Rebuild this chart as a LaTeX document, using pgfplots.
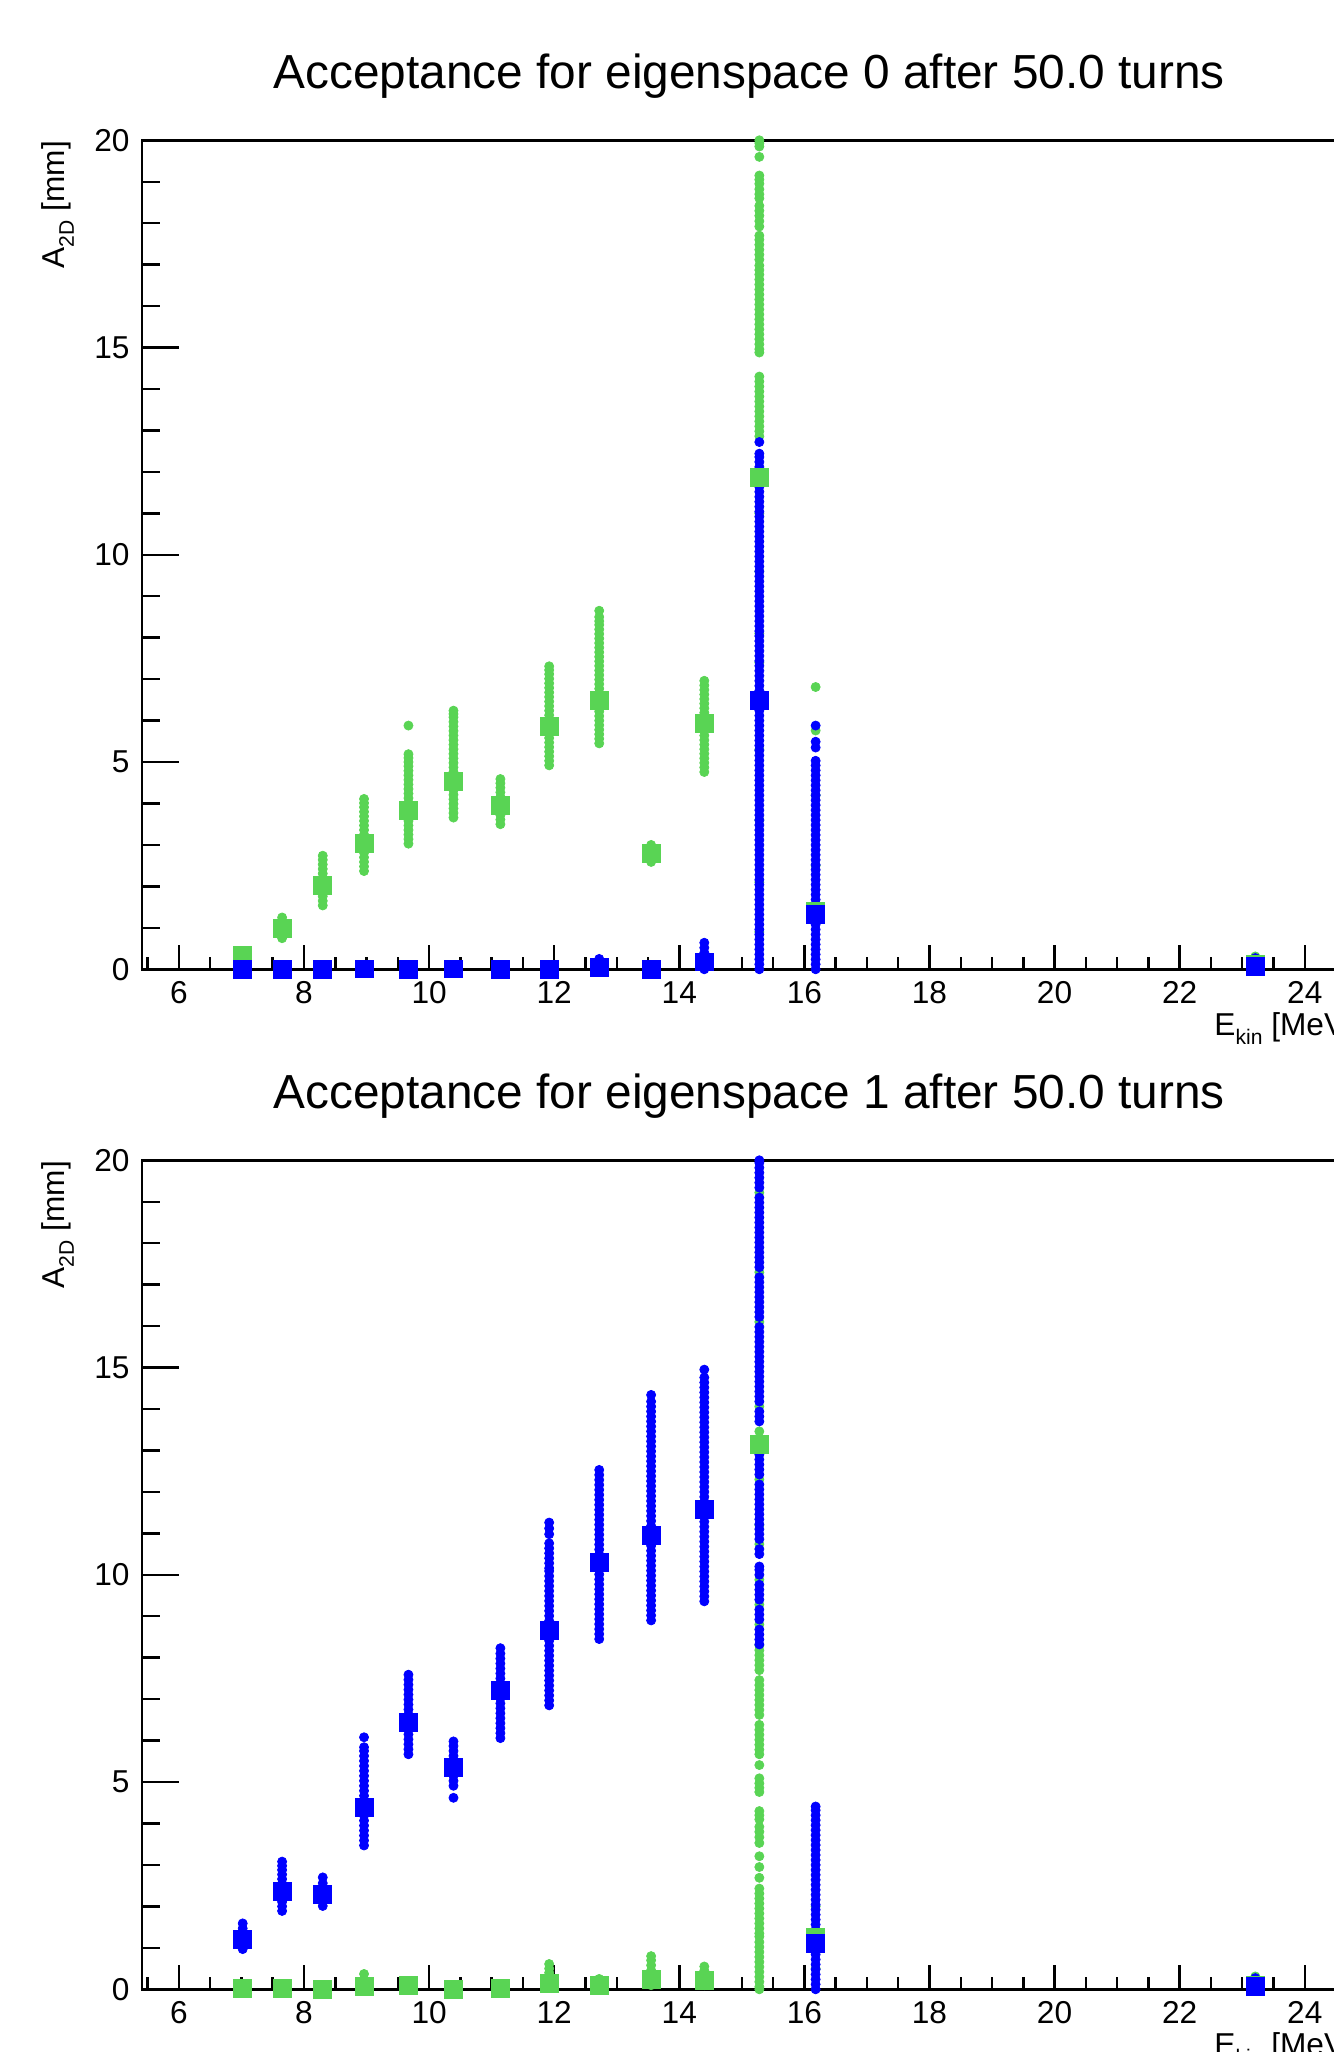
\documentclass[border=0pt]{standalone}
\usepackage{fontspec}
\setmainfont{Liberation Sans}
\usepackage{pgfplots}
\pgfplotsset{compat=1.18}
\definecolor{rgreen}{RGB}{89,212,84}
\definecolor{rblue}{RGB}{0,0,255}
\newcommand\rsub[1]{\raisebox{-0.28em}{\fontsize{6.0}{7}\selectfont #1}}
\pgfplotsset{
  rootaxis/.style={
    scale only axis, width=12.253cm, height=8.29cm,
    xmin=5.41, xmax=25.0, ymin=0, ymax=20,
    xtick={6,8,...,24}, minor xtick={5.5,6,...,25},
    ytick={0,5,...,20}, minor ytick={0,1,...,20},
    xtick pos=bottom, ytick pos=left, tick align=inside,
    xtick style={/pgfplots/major tick length=0.24cm, /pgfplots/minor tick length=0.12cm},
    ytick style={/pgfplots/major tick length=0.37cm, /pgfplots/minor tick length=0.18cm},
    axis line style={line width=0.7pt},
    every tick/.append style={black, line width=0.7pt},
    clip=false,
    tick label style={font=\fontsize{9.0}{10}\selectfont},
    /pgf/number format/assume math mode=true,
    label style={font=\fontsize{9.0}{11}\selectfont},
    xlabel={E\rsub{kin} [MeV]},
    ylabel={A\rsub{2D} [mm]},
    xlabel style={at={(axis description cs:0.8747,-0.080)}, anchor=base west, inner sep=0pt},
    ylabel style={at={(axis description cs:-0.0629,1)}, anchor=base east, inner sep=0pt},
    every axis title/.style={at={(axis description cs:0.4955,1.0624)}, anchor=base,
                 inner sep=0pt, font=\fontsize{13.6}{16}\selectfont},
  },
  dots/.style={only marks, color=#1, mark=*, mark size=1.3pt,
               mark options={solid, fill=#1, line width=0.2pt}},
  sq/.style={only marks, color=#1, mark=square*, mark size=2.55pt,
             mark options={solid, fill=#1, line width=0.2pt}},
}

\begin{document}
\begin{tikzpicture}

% ---------- eigenspace 0 ----------
\begin{axis}[rootaxis, at={(1.42cm,10.827cm)}, anchor=south west,
  title={Acceptance for eigenspace 0 after 50.0 turns}]

% green dots
\addplot[dots=rgreen] coordinates {
 (7.02,0.30) (7.02,0.38)
 (7.65,0.75) (7.65,0.85) (7.65,0.95) (7.65,1.05) (7.65,1.15) (7.65,1.25)
 (8.30,1.54) (8.30,1.65) (8.30,1.76) (8.30,1.87) (8.30,1.98) (8.30,2.09) (8.30,2.20)
 (8.30,2.31) (8.30,2.42) (8.30,2.53) (8.30,2.64) (8.30,2.74)
 (8.96,2.37) (8.96,2.48) (8.96,2.59) (8.96,2.70) (8.96,2.81) (8.96,2.92) (8.96,3.03)
 (8.96,3.14) (8.96,3.25) (8.96,3.36) (8.96,3.47) (8.96,3.58) (8.96,3.69) (8.96,3.80)
 (8.96,3.91) (8.96,4.01) (8.96,4.11)
 (9.67,3.03) (9.67,3.14) (9.67,3.25) (9.67,3.36) (9.67,3.47) (9.67,3.58) (9.67,3.69)
 (9.67,3.80) (9.67,3.91) (9.67,4.02) (9.67,4.13) (9.67,4.24) (9.67,4.35) (9.67,4.46)
 (9.67,4.57) (9.67,4.68) (9.67,4.79) (9.67,4.90) (9.67,5.00) (9.67,5.10) (9.67,5.19)
 (9.67,5.88)
 (10.39,3.66) (10.39,3.77) (10.39,3.88) (10.39,3.99) (10.39,4.10) (10.39,4.21) (10.39,4.32)
 (10.39,4.43) (10.39,4.54) (10.39,4.65) (10.39,4.76) (10.39,4.87) (10.39,4.98) (10.39,5.09)
 (10.39,5.20) (10.39,5.31) (10.39,5.42) (10.39,5.53) (10.39,5.64) (10.39,5.75) (10.39,5.86)
 (10.39,5.97) (10.39,6.08) (10.39,6.16) (10.39,6.24)
 (11.14,3.50) (11.14,3.61) (11.14,3.72) (11.14,3.83) (11.14,3.94) (11.14,4.05) (11.14,4.16)
 (11.14,4.27) (11.14,4.38) (11.14,4.49) (11.14,4.59)
 (11.92,4.92) (11.92,5.03) (11.92,5.14) (11.92,5.25) (11.92,5.36) (11.92,5.47) (11.92,5.58)
 (11.92,5.69) (11.92,5.80) (11.92,5.91) (11.92,6.02) (11.92,6.13) (11.92,6.24) (11.92,6.35)
 (11.92,6.46) (11.92,6.57) (11.92,6.68) (11.92,6.79) (11.92,6.90) (11.92,7.01) (11.92,7.12)
 (11.92,7.22) (11.92,7.31)
 (12.72,5.45) (12.72,5.56) (12.72,5.67) (12.72,5.78) (12.72,5.89) (12.72,6.00) (12.72,6.11)
 (12.72,6.22) (12.72,6.33) (12.72,6.44) (12.72,6.55) (12.72,6.66) (12.72,6.77) (12.72,6.88)
 (12.72,6.99) (12.72,7.10) (12.72,7.21) (12.72,7.32) (12.72,7.43) (12.72,7.54) (12.72,7.65)
 (12.72,7.76) (12.72,7.87) (12.72,7.98) (12.72,8.09) (12.72,8.20) (12.72,8.31) (12.72,8.40)
 (12.72,8.50) (12.72,8.65)
 (13.55,2.59) (13.55,2.69) (13.55,2.79) (13.55,2.90) (13.55,3.00)
 (14.40,4.76) (14.40,4.87) (14.40,4.98) (14.40,5.09) (14.40,5.20) (14.40,5.31) (14.40,5.42)
 (14.40,5.53) (14.40,5.64) (14.40,5.75) (14.40,5.86) (14.40,5.97) (14.40,6.08) (14.40,6.19)
 (14.40,6.30) (14.40,6.41) (14.40,6.52) (14.40,6.63) (14.40,6.74) (14.40,6.85) (14.40,6.96)
 (15.28,20.00) (15.28,19.93) (15.28,19.85) (15.28,19.60) (15.28,19.15) (15.28,19.05)
 (15.28,18.95) (15.28,18.82) (15.28,18.70) (15.28,18.60) (15.28,18.42) (15.28,18.30)
 (15.28,18.18) (15.28,18.05) (15.28,17.92) (15.28,17.70) (15.28,17.60) (15.28,17.48)
 (15.28,17.36) (15.28,17.24) (15.28,17.12) (15.28,16.98) (15.28,16.87) (15.28,16.76)
 (15.28,16.64) (15.28,16.52) (15.28,16.40) (15.28,16.28) (15.28,16.16) (15.28,16.04)
 (15.28,15.92) (15.28,15.80) (15.28,15.68) (15.28,15.56) (15.28,15.44) (15.28,15.32)
 (15.28,15.20) (15.28,15.08) (15.28,14.96) (15.28,14.88)
 (15.28,14.30) (15.28,14.18) (15.28,14.06) (15.28,13.94) (15.28,13.82) (15.28,13.70)
 (15.28,13.58) (15.28,13.46) (15.28,13.34) (15.28,13.22) (15.28,13.10) (15.28,12.98)
 (15.28,12.86) (15.28,11.00) (15.28,9.60) (15.28,8.10) (15.28,7.40) (15.28,5.30)
 (15.28,3.60) (15.28,2.10) (15.28,0.90)
 (16.18,6.81) (16.18,5.76) (16.18,4.20) (16.18,2.50)
 (23.21,0.31)
};

% blue dots
\addplot[dots=rblue] coordinates {
 (7.02,0) (7.65,0) (8.30,0) (8.96,0) (9.67,0) (10.39,0) (11.14,0) (11.92,0) (13.55,0)
 (12.72,0) (12.72,0.10) (12.72,0.25)
 (14.40,0) (14.40,0.10) (14.40,0.20) (14.40,0.30) (14.40,0.40) (14.40,0.52) (14.40,0.64)
 (15.28,0.00) (15.28,0.12) (15.28,0.24) (15.28,0.36) (15.28,0.48) (15.28,0.60) (15.28,0.72)
 (15.28,0.84) (15.28,0.96) (15.28,1.08) (15.28,1.20) (15.28,1.32) (15.28,1.44) (15.28,1.56)
 (15.28,1.68) (15.28,1.80) (15.28,1.92) (15.28,2.04) (15.28,2.16) (15.28,2.28) (15.28,2.40)
 (15.28,2.52) (15.28,2.64) (15.28,2.76) (15.28,2.88) (15.28,3.00) (15.28,3.12) (15.28,3.24)
 (15.28,3.36) (15.28,3.48) (15.28,3.60) (15.28,3.72) (15.28,3.84) (15.28,3.96) (15.28,4.08)
 (15.28,4.20) (15.28,4.32) (15.28,4.44) (15.28,4.56) (15.28,4.68) (15.28,4.80) (15.28,4.92)
 (15.28,5.04) (15.28,5.16) (15.28,5.28) (15.28,5.40) (15.28,5.52) (15.28,5.64) (15.28,5.76)
 (15.28,5.88) (15.28,6.00) (15.28,6.12) (15.28,6.24) (15.28,6.36) (15.28,6.48) (15.28,6.60)
 (15.28,6.72) (15.28,6.84) (15.28,6.96) (15.28,7.08) (15.28,7.20) (15.28,7.32) (15.28,7.44)
 (15.28,7.56) (15.28,7.68) (15.28,7.80) (15.28,7.92) (15.28,8.04) (15.28,8.16) (15.28,8.28)
 (15.28,8.40) (15.28,8.52) (15.28,8.64) (15.28,8.76) (15.28,8.88) (15.28,9.00) (15.28,9.12)
 (15.28,9.24) (15.28,9.36) (15.28,9.48) (15.28,9.60) (15.28,9.72) (15.28,9.84) (15.28,9.96)
 (15.28,10.08) (15.28,10.20) (15.28,10.32) (15.28,10.44) (15.28,10.56) (15.28,10.68)
 (15.28,10.80) (15.28,10.92) (15.28,11.04) (15.28,11.16) (15.28,11.28) (15.28,11.40)
 (15.28,11.52) (15.28,11.64) (15.28,11.76) (15.28,11.88) (15.28,12.00) (15.28,12.12)
 (15.28,12.24) (15.28,12.36) (15.28,12.44) (15.28,12.72)
 (16.18,0.00) (16.18,0.12) (16.18,0.24) (16.18,0.36) (16.18,0.48) (16.18,0.60) (16.18,0.72)
 (16.18,0.84) (16.18,0.96) (16.18,1.08) (16.18,1.20) (16.18,1.32) (16.18,1.44) (16.18,1.56)
 (16.18,1.68) (16.18,1.80) (16.18,1.92) (16.18,2.04) (16.18,2.16) (16.18,2.28) (16.18,2.40)
 (16.18,2.52) (16.18,2.64) (16.18,2.76) (16.18,2.88) (16.18,3.00) (16.18,3.12) (16.18,3.24)
 (16.18,3.36) (16.18,3.48) (16.18,3.60) (16.18,3.72) (16.18,3.84) (16.18,3.96) (16.18,4.08)
 (16.18,4.20) (16.18,4.32) (16.18,4.44) (16.18,4.56) (16.18,4.68) (16.18,4.80) (16.18,4.92)
 (16.18,5.03) (16.18,5.35) (16.18,5.49) (16.18,5.88)
 (23.21,0.27)
};

% mean values
\addplot[sq=rgreen] coordinates {
 (7.02,0.34) (7.65,0.98) (8.30,2.03) (8.96,3.04) (9.67,3.83) (10.39,4.53) (11.14,3.96)
 (11.92,5.85) (12.72,6.48) (13.55,2.80) (14.40,5.93) (15.28,11.87) (16.18,1.40) (23.21,0.12)
};
\addplot[sq=rblue] coordinates {
 (7.02,0) (7.65,0) (8.30,0) (8.96,0.01) (9.67,0) (10.39,0.01) (11.14,0) (11.92,0)
 (12.72,0.05) (13.55,0) (14.40,0.18) (15.28,6.48) (16.18,1.33) (23.21,0.08)
};
\end{axis}

% ---------- eigenspace 1 ----------
\begin{axis}[rootaxis, at={(1.42cm,0.627cm)}, anchor=south west,
  title={Acceptance for eigenspace 1 after 50.0 turns}]

% green dots
\addplot[dots=rgreen] coordinates {
 (7.02,0.05) (7.65,0.05) (8.30,0.00) (10.39,0.00) (11.14,0.05)
 (8.96,0.10) (8.96,0.22) (8.96,0.37)
 (9.67,0.10) (9.67,0.20)
 (11.92,0.10) (11.92,0.20) (11.92,0.30) (11.92,0.40) (11.92,0.50) (11.92,0.61)
 (12.72,0.10) (12.72,0.25)
 (13.55,0.10) (13.55,0.22) (13.55,0.34) (13.55,0.46) (13.55,0.58) (13.55,0.70) (13.55,0.80)
 (14.40,0.10) (14.40,0.22) (14.40,0.34) (14.40,0.45) (14.40,0.55)
 (15.28,19.22) (15.28,17.30) (15.28,16.10) (15.28,14.06) (15.28,13.46) (15.28,12.30)
 (15.28,11.20) (15.28,10.74) (15.28,9.88) (15.28,9.28) (15.28,8.80)
 (15.28,8.30) (15.28,8.18) (15.28,8.06) (15.28,7.94) (15.28,7.82) (15.28,7.70) (15.28,7.46)
 (15.28,7.34) (15.28,7.22) (15.28,7.10) (15.28,6.98) (15.28,6.86) (15.28,6.74) (15.28,6.62)
 (15.28,6.38) (15.28,6.26) (15.28,6.14) (15.28,6.02) (15.28,5.90) (15.28,5.78) (15.28,5.67)
 (15.28,5.41) (15.28,5.09) (15.28,4.97) (15.28,4.86) (15.28,4.76)
 (15.28,4.30) (15.28,4.20) (15.28,4.10) (15.28,3.92) (15.28,3.80) (15.28,3.67) (15.28,3.53)
 (15.28,3.21) (15.28,2.95) (15.28,2.69)
 (15.28,2.43) (15.28,2.31) (15.28,2.19) (15.28,2.07) (15.28,1.95) (15.28,1.83) (15.28,1.71)
 (15.28,1.59) (15.28,1.47) (15.28,1.35) (15.28,1.27)
 (15.28,1.14) (15.28,1.02) (15.28,0.90) (15.28,0.78) (15.28,0.66) (15.28,0.54) (15.28,0.42)
 (15.28,0.30) (15.28,0.18) (15.28,0.06) (15.28,0.00)
 (16.18,0.50) (16.18,2.00)
 (23.21,0.31)
};

% blue dots
\addplot[dots=rblue] coordinates {
 (7.02,0.97) (7.02,1.07) (7.02,1.17) (7.02,1.27) (7.02,1.37) (7.02,1.47) (7.02,1.59)
 (7.65,1.89) (7.65,2.00) (7.65,2.11) (7.65,2.22) (7.65,2.33) (7.65,2.44) (7.65,2.55)
 (7.65,2.66) (7.65,2.77) (7.65,2.88) (7.65,2.98) (7.65,3.08)
 (8.30,2.01) (8.30,2.12) (8.30,2.23) (8.30,2.34) (8.30,2.45) (8.30,2.56) (8.30,2.70)
 (8.96,3.47) (8.96,3.59) (8.96,3.71) (8.96,3.83) (8.96,3.95) (8.96,4.07) (8.96,4.19)
 (8.96,4.31) (8.96,4.43) (8.96,4.55) (8.96,4.67) (8.96,4.79) (8.96,4.91) (8.96,5.03)
 (8.96,5.15) (8.96,5.27) (8.96,5.39) (8.96,5.51) (8.96,5.63) (8.96,5.75) (8.96,5.84)
 (8.96,6.08)
 (9.67,5.67) (9.67,5.79) (9.67,5.91) (9.67,6.03) (9.67,6.15) (9.67,6.27) (9.67,6.39)
 (9.67,6.51) (9.67,6.63) (9.67,6.75) (9.67,6.87) (9.67,6.99) (9.67,7.11) (9.67,7.23)
 (9.67,7.35) (9.67,7.47) (9.67,7.59)
 (10.39,4.62) (10.39,4.91) (10.39,5.03) (10.39,5.15) (10.39,5.27) (10.39,5.39) (10.39,5.51)
 (10.39,5.63) (10.39,5.75) (10.39,5.87) (10.39,5.98)
 (11.14,6.06) (11.14,6.18) (11.14,6.30) (11.14,6.42) (11.14,6.54) (11.14,6.66) (11.14,6.78)
 (11.14,6.90) (11.14,7.02) (11.14,7.14) (11.14,7.26) (11.14,7.38) (11.14,7.50) (11.14,7.62)
 (11.14,7.74) (11.14,7.86) (11.14,7.98) (11.14,8.10) (11.14,8.23)
 (11.92,6.85) (11.92,6.97) (11.92,7.09) (11.92,7.21) (11.92,7.33) (11.92,7.45) (11.92,7.57)
 (11.92,7.69) (11.92,7.81) (11.92,7.93) (11.92,8.05) (11.92,8.17) (11.92,8.29) (11.92,8.41)
 (11.92,8.53) (11.92,8.65) (11.92,8.77) (11.92,8.89) (11.92,9.01) (11.92,9.13) (11.92,9.25)
 (11.92,9.37) (11.92,9.49) (11.92,9.61) (11.92,9.73) (11.92,9.85) (11.92,9.97) (11.92,10.09)
 (11.92,10.16) (11.92,10.28) (11.92,10.40) (11.92,10.52) (11.92,10.64) (11.92,10.76)
 (11.92,10.98) (11.92,11.12) (11.92,11.26)
 (12.72,8.45) (12.72,8.57) (12.72,8.69) (12.72,8.81) (12.72,8.93) (12.72,9.05) (12.72,9.17)
 (12.72,9.29) (12.72,9.41) (12.72,9.53) (12.72,9.65) (12.72,9.77) (12.72,9.89) (12.72,10.01)
 (12.72,10.13) (12.72,10.25) (12.72,10.37) (12.72,10.49) (12.72,10.61) (12.72,10.73)
 (12.72,10.85) (12.72,10.97) (12.72,11.09) (12.72,11.21) (12.72,11.33) (12.72,11.45)
 (12.72,11.57) (12.72,11.69) (12.72,11.81) (12.72,11.93) (12.72,12.05) (12.72,12.17)
 (12.72,12.29) (12.72,12.41) (12.72,12.53)
 (13.55,8.90) (13.55,9.02) (13.55,9.14) (13.55,9.26) (13.55,9.38) (13.55,9.50) (13.55,9.62)
 (13.55,9.74) (13.55,9.86) (13.55,9.98) (13.55,10.10) (13.55,10.22) (13.55,10.34)
 (13.55,10.46) (13.55,10.58) (13.55,10.70) (13.55,10.82) (13.55,10.94) (13.55,11.06)
 (13.55,11.18) (13.55,11.30) (13.55,11.42) (13.55,11.54) (13.55,11.66) (13.55,11.78)
 (13.55,11.90) (13.55,12.02) (13.55,12.14) (13.55,12.26) (13.55,12.38) (13.55,12.50)
 (13.55,12.62) (13.55,12.74) (13.55,12.86) (13.55,12.98) (13.55,13.10) (13.55,13.22)
 (13.55,13.34) (13.55,13.46) (13.55,13.58) (13.55,13.70) (13.55,13.82) (13.55,13.94)
 (13.55,14.06) (13.55,14.18) (13.55,14.34)
 (14.40,9.36) (14.40,9.48) (14.40,9.60) (14.40,9.72) (14.40,9.84) (14.40,9.96) (14.40,10.08)
 (14.40,10.20) (14.40,10.32) (14.40,10.44) (14.40,10.56) (14.40,10.68) (14.40,10.80)
 (14.40,10.92) (14.40,11.04) (14.40,11.16) (14.40,11.28) (14.40,11.40) (14.40,11.52)
 (14.40,11.64) (14.40,11.76) (14.40,11.88) (14.40,12.00) (14.40,12.12) (14.40,12.24)
 (14.40,12.36) (14.40,12.48) (14.40,12.60) (14.40,12.72) (14.40,12.84) (14.40,12.96)
 (14.40,13.08) (14.40,13.20) (14.40,13.32) (14.40,13.44) (14.40,13.56) (14.40,13.68)
 (14.40,13.80) (14.40,13.92) (14.40,14.04) (14.40,14.16) (14.40,14.28) (14.40,14.40)
 (14.40,14.52) (14.40,14.64) (14.40,14.76) (14.40,14.95)
 (15.28,8.32) (15.28,8.44) (15.28,8.56) (15.28,8.68) (15.28,8.92) (15.28,9.04)
 (15.28,9.16) (15.28,9.40) (15.28,9.52) (15.28,9.64) (15.28,9.76) (15.28,10.00)
 (15.28,10.12) (15.28,10.20) (15.28,10.50) (15.28,10.62) (15.28,10.86) (15.28,10.98)
 (15.28,11.10) (15.28,11.22) (15.28,11.34) (15.28,11.46) (15.28,11.58) (15.28,11.70)
 (15.28,11.82) (15.28,11.94) (15.28,12.06) (15.28,12.18) (15.28,12.42) (15.28,12.54)
 (15.28,12.66) (15.28,12.78) (15.28,12.90) (15.28,13.02) (15.28,13.14) (15.28,13.24)
 (15.28,13.70) (15.28,13.82) (15.28,13.94) (15.28,14.18) (15.28,14.30)
 (15.28,14.42) (15.28,14.54) (15.28,14.66) (15.28,14.78) (15.28,14.90) (15.28,15.02)
 (15.28,15.14) (15.28,15.26) (15.28,15.38) (15.28,15.50) (15.28,15.62) (15.28,15.74)
 (15.28,15.86) (15.28,15.98) (15.28,16.22) (15.28,16.34) (15.28,16.46)
 (15.28,16.58) (15.28,16.70) (15.28,16.82) (15.28,16.94) (15.28,17.06) (15.28,17.18)
 (15.28,17.42) (15.28,17.54) (15.28,17.66) (15.28,17.78) (15.28,17.90)
 (15.28,18.02) (15.28,18.14) (15.28,18.26) (15.28,18.38) (15.28,18.50) (15.28,18.62)
 (15.28,18.74) (15.28,18.86) (15.28,18.98) (15.28,19.10)
 (15.28,19.34) (15.28,19.46) (15.28,19.58) (15.28,19.70) (15.28,19.82) (15.28,19.94)
 (15.28,20.00)
 (16.18,0.00) (16.18,0.12) (16.18,0.24) (16.18,0.36) (16.18,0.48) (16.18,0.60) (16.18,0.72)
 (16.18,0.84) (16.18,0.96) (16.18,1.08) (16.18,1.20) (16.18,1.32) (16.18,1.44) (16.18,1.56)
 (16.18,1.68) (16.18,1.80) (16.18,1.92) (16.18,2.04) (16.18,2.16) (16.18,2.28) (16.18,2.40)
 (16.18,2.52) (16.18,2.64) (16.18,2.76) (16.18,2.88) (16.18,3.00) (16.18,3.12) (16.18,3.24)
 (16.18,3.36) (16.18,3.48) (16.18,3.60) (16.18,3.72) (16.18,3.84) (16.18,3.96) (16.18,4.08)
 (16.18,4.20) (16.18,4.32) (16.18,4.41)
 (23.21,0.27)
};

% mean values
\addplot[sq=rgreen] coordinates {
 (7.02,0.02) (7.65,0.03) (8.30,0.00) (8.96,0.08) (9.67,0.10) (10.39,0.00) (11.14,0.02)
 (11.92,0.15) (12.72,0.10) (13.55,0.25) (14.40,0.22) (15.28,13.15) (16.18,1.25) (23.21,0.10)
};
\addplot[sq=rblue] coordinates {
 (7.02,1.21) (7.65,2.37) (8.30,2.30) (8.96,4.38) (9.67,6.44) (10.39,5.36) (11.14,7.21)
 (11.92,8.67) (12.72,10.29) (13.55,10.95) (14.40,11.57) (16.18,1.11) (23.21,0.08)
};
\end{axis}

\pgfresetboundingbox
\path[use as bounding box] (0,0) rectangle (13.34,20.52);
\end{tikzpicture}
\end{document}
